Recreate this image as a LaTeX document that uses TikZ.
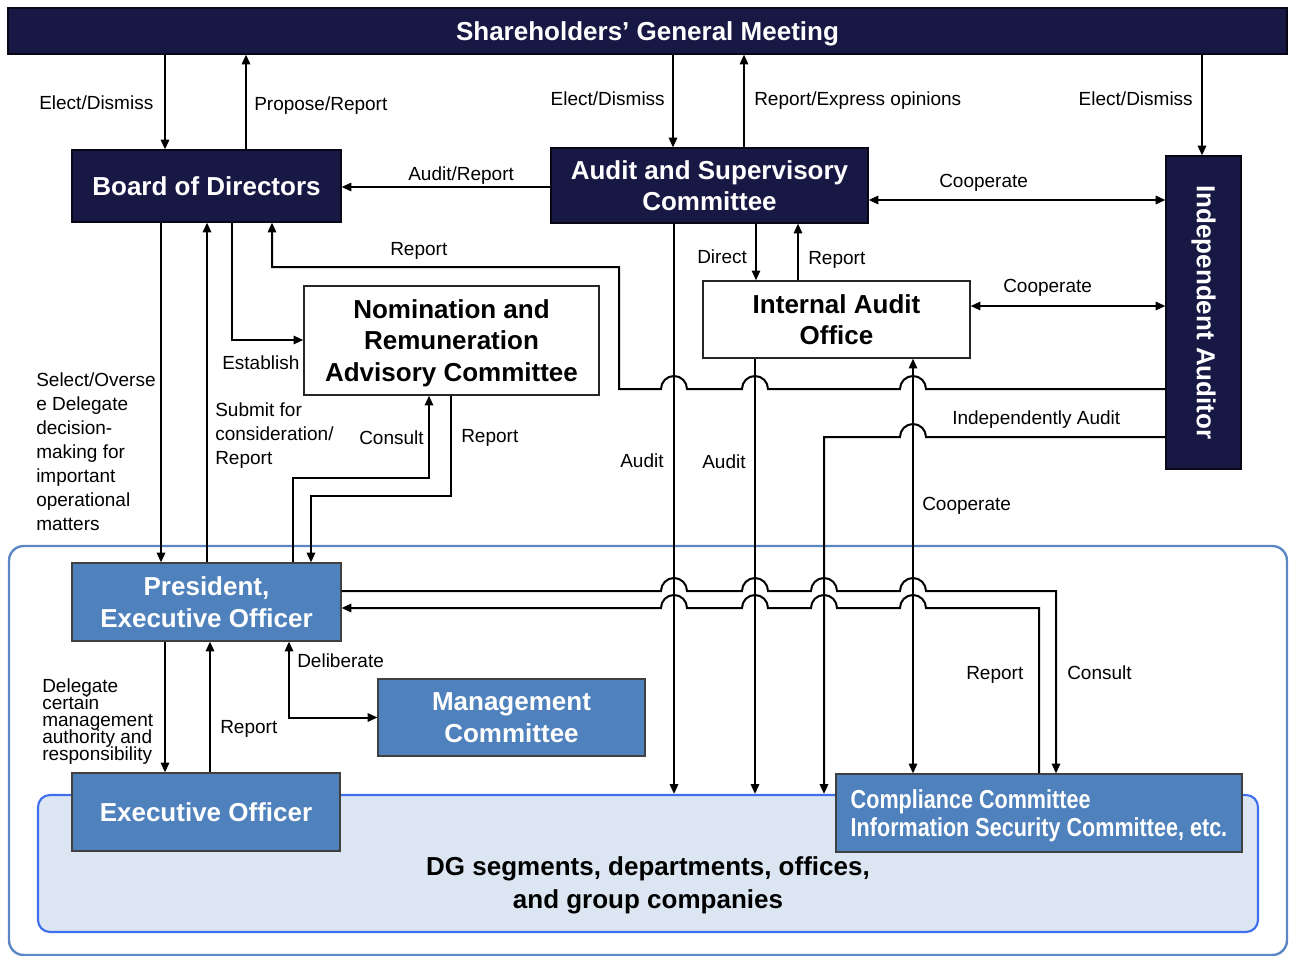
\documentclass[tikz,border=0pt]{standalone}
\usepackage{fontspec}
\usepackage{graphicx}
\setmainfont{Liberation Sans}
\newfontfamily\narrowbf[FakeStretch=0.83]{Liberation Sans Bold}
\usetikzlibrary{arrows.meta}
\definecolor{navy}{HTML}{181845}
\definecolor{steel}{HTML}{4F81BD}
\definecolor{outerc}{HTML}{5B87C5}
\definecolor{innerc}{HTML}{3F6FEF}
\definecolor{dgfill}{HTML}{DCE6F2}
\newcommand\tightlines{\lineskiplimit=-20pt\relax}
\begin{document}
\begin{tikzpicture}[x=0.75pt,y=-0.75pt,
  sz/.style 2 args={minimum width=#1*0.75pt, minimum height=#2*0.75pt},
  title/.style={font=\fontsize{19.5}{23.6}\selectfont\bfseries, align=center, inner sep=0pt},
  navybox/.style={title, draw=black!70!navy, line width=0.8pt, fill=navy, text=white},
  bluebox/.style={title, draw=black!75, line width=0.8pt, fill=steel, text=white},
  whitebox/.style={title, draw=black!85, line width=1pt, fill=white, text=black},
  lab/.style={font=\fontsize{14.25}{18}\selectfont, inner sep=0pt, text depth=0pt},
  tip/.tip={Triangle[length=7.3pt,width=6.2pt]},
  conn/.style={line width=1.5pt, -tip},
  dconn/.style={line width=1.5pt, tip-tip},
]
\useasboundingbox (0,0) rectangle (1290,956);

% background groups
\draw[draw=outerc, line width=1.8pt, rounded corners=11pt] (9,546) rectangle (1287,955);
\node[draw=innerc, fill=dgfill, line width=1.6pt, rounded corners=9pt, sz={1220}{137}, inner sep=0pt] (dg) at (648,863.5) {};
\node[title, text=black, font=\fontsize{19.5}{24.75}\selectfont\bfseries] (dgtext) at (648,885) {DG segments, departments, offices,\\and group companies};

% nodes
\node[navybox, sz={1279}{46}, text depth=0pt] (sgm) at (647.5,31) {Shareholders’ General Meeting};
\node[navybox, sz={269}{72}] (bod) at (206.5,186) {Board of Directors};
\node[navybox, sz={317}{75}] (asc) at (709.5,185.5) {Audit and Supervisory\\Committee};
\node[navybox, sz={75}{313}] (ia) at (1203.5,312.5) {\rotatebox{-90}{Independent Auditor}};
\node[whitebox, sz={295}{109}, text depth=0pt] (nrac) at (451.5,340.5) {Nomination and\\Remuneration\\Advisory Committee};
\node[whitebox, sz={267}{77}] (iao) at (836.5,319.5) {Internal Audit\\Office};
\node[bluebox, sz={269}{78}] (pres) at (206.5,602) {President,\\Executive Officer};
\node[bluebox, sz={267}{77}] (mc) at (511.5,717.5) {Management\\Committee};
\node[bluebox, sz={268}{78}] (eo) at (206,812) {Executive Officer};
\node[bluebox, sz={406}{78}, font=\fontsize{19.5}{21}\narrowbf, align=left, text depth=0pt] (comp) at (1039,813) {Compliance Committee\\Information Security Committee, etc.};

% labels
\node[lab, anchor=west] at (39,103) {Elect/Dismiss};
\node[lab, anchor=west] at (254,104) {Propose/Report};
\node[lab, anchor=east] at (665,99) {Elect/Dismiss};
\node[lab, anchor=west] at (754,99) {Report/Express opinions};
\node[lab, anchor=east] at (1193,99) {Elect/Dismiss};
\node[lab, anchor=west] at (408,174) {Audit/Report};
\node[lab, anchor=west] at (939,181) {Cooperate};
\node[lab, anchor=west] at (390,249) {Report};
\node[lab, anchor=west] at (697,257) {Direct};
\node[lab, anchor=west] at (808,258) {Report};
\node[lab, anchor=west] at (1003,286) {Cooperate};
\node[lab, anchor=west] at (222,363) {Establish};
\node[lab, anchor=west, align=left] at (36,451.5) {Select/Overse\\e Delegate\\decision-\\making for\\important\\operational\\matters};
\node[lab, anchor=west, align=left] at (215,434) {Submit for\\consideration/\\Report};
\node[lab, anchor=west] at (359,438) {Consult};
\node[lab, anchor=west] at (461,436) {Report};
\node[lab, anchor=west] at (620,461) {Audit};
\node[lab, anchor=west] at (702,462) {Audit};
\node[lab, anchor=west] at (952,418) {Independently Audit};
\node[lab, anchor=west] at (922,504) {Cooperate};
\node[lab, anchor=west] at (297,661) {Deliberate};
\node[lab, anchor=west, align=left, font=\fontsize{14.25}{12.75}\selectfont\tightlines] at (42,720) {Delegate\\certain\\management\\authority and\\responsibility};
\node[lab, anchor=west] at (220,727) {Report};
\node[lab, anchor=west] at (966,673) {Report};
\node[lab, anchor=west] at (1067,673) {Consult};

% connectors
\draw[conn] (sgm.south -| 165,0) -- (bod.north -| 165,0);
\draw[conn] (bod.north -| 246,0) -- (sgm.south -| 246,0);
\draw[conn] (sgm.south -| 673,0) -- (asc.north -| 673,0);
\draw[conn] (asc.north -| 744,0) -- (sgm.south -| 744,0);
\draw[conn] (sgm.south -| 1202,0) -- (ia.north -| 1202,0);
\draw[conn] (asc.west |- 0,187) -- (bod.east |- 0,187);
\draw[dconn] (asc.east |- 0,200) -- (ia.west |- 0,200);
\draw[conn] (asc.south -| 756,0) -- (iao.north -| 756,0);
\draw[conn] (iao.north -| 798,0) -- (asc.south -| 798,0);
\draw[dconn] (iao.east |- 0,306) -- (ia.west |- 0,306);
\draw[conn] (asc.south -| 674,0) -- (dg.north -| 674,0);
\draw[conn] (iao.south -| 755,0) -- (dg.north -| 755,0);
\draw[dconn] (iao.south -| 913,0) -- (comp.north -| 913,0);

\draw[conn] (ia.west |- 0,389) -- (926,389) arc[start angle=0,end angle=180,radius=9.75pt]
  -- (768,389) arc[start angle=0,end angle=180,radius=9.75pt]
  -- (687,389) arc[start angle=0,end angle=180,radius=9.75pt]
  -- (619,389) -- (619,267) -- (272,267) -- (bod.south -| 272,0);
\draw[conn] (ia.west |- 0,437) -- (926,437) arc[start angle=0,end angle=180,radius=9.75pt]
  -- (824,437) -- (dg.north -| 824,0);

\draw[conn] (pres.east |- 0,591) -- (661,591) arc[start angle=180,end angle=0,radius=9.75pt]
  -- (742,591) arc[start angle=180,end angle=0,radius=9.75pt]
  -- (811,591) arc[start angle=180,end angle=0,radius=9.75pt]
  -- (900,591) arc[start angle=180,end angle=0,radius=9.75pt]
  -- (1056,591) -- (comp.north -| 1056,0);
\draw[conn] (comp.north -| 1039,0) -- (1039,608) -- (926,608) arc[start angle=0,end angle=180,radius=9.75pt]
  -- (837,608) arc[start angle=0,end angle=180,radius=9.75pt]
  -- (768,608) arc[start angle=0,end angle=180,radius=9.75pt]
  -- (687,608) arc[start angle=0,end angle=180,radius=9.75pt]
  -- (pres.east |- 0,608);

\draw[conn] (bod.south -| 161,0) -- (pres.north -| 161,0);
\draw[conn] (pres.north -| 207,0) -- (bod.south -| 207,0);
\draw[conn] (bod.south -| 232,0) |- (nrac.west |- 0,340);
\draw[conn] (pres.north -| 293,0) -- (293,478) -| (nrac.south -| 429,0);
\draw[conn] (nrac.south -| 451,0) -- (451,496) -| (pres.north -| 311,0);
\draw[conn] (pres.south -| 165,0) -- (eo.north -| 165,0);
\draw[conn] (eo.north -| 210,0) -- (pres.south -| 210,0);
\draw[dconn] (pres.south -| 289,0) |- (mc.west);
\end{tikzpicture}
\end{document}
